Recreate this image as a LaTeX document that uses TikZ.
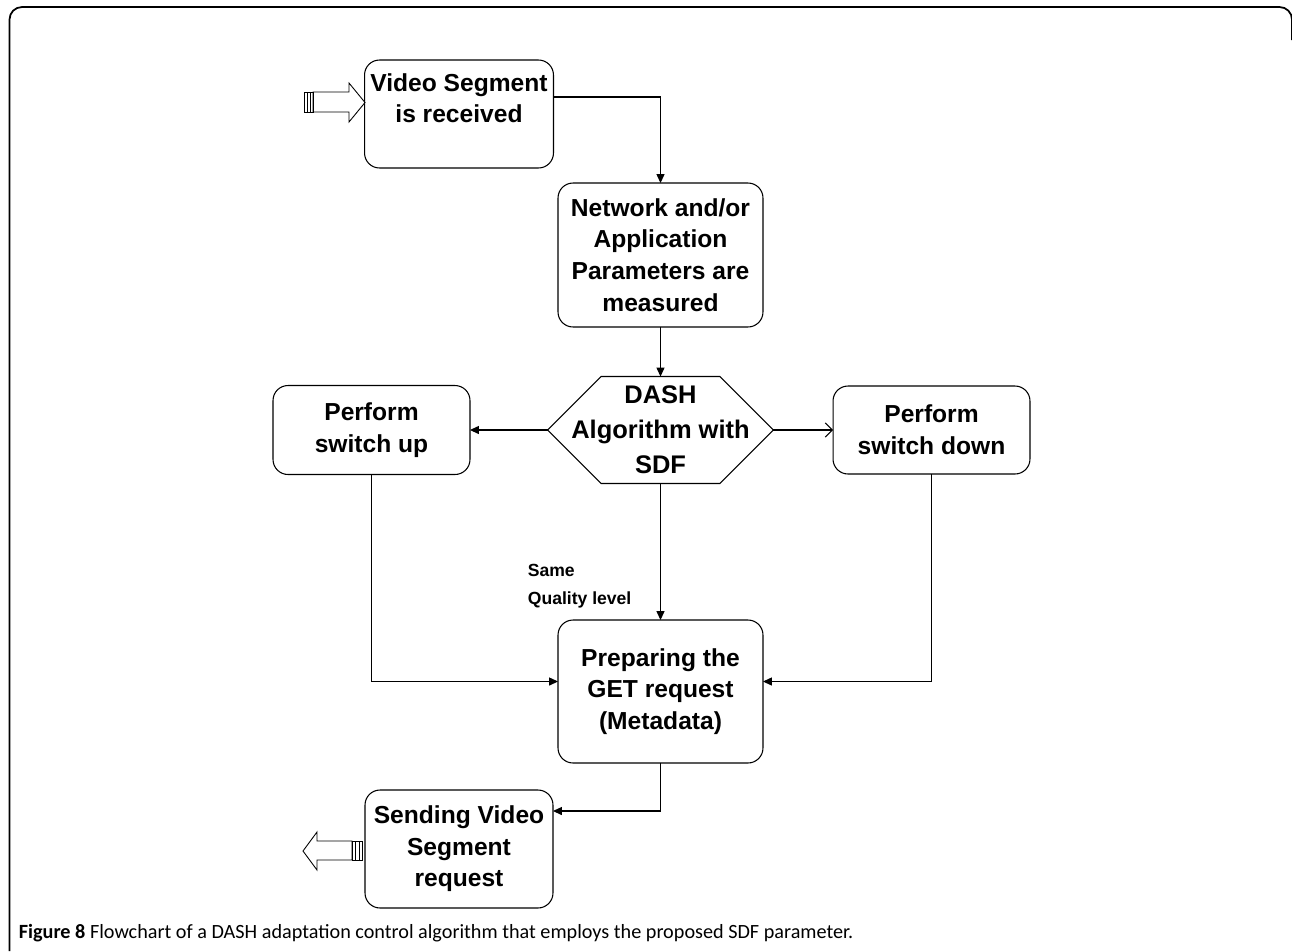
\documentclass[tikz,border=0pt]{standalone}
\usepackage{fontspec}
\setmainfont{Liberation Sans}
\newfontfamily\capfont{Carlito}
\usetikzlibrary{arrows.meta,shapes.symbols}

\begin{document}
\begin{tikzpicture}[x=0.02cm, y=-0.02cm,
    every node/.style={align=center, font=\bfseries\fontsize{14}{18}\selectfont, outer sep=0pt},
    box/.style={draw, rounded corners=0.3cm, line width=0.6pt},
    arrow/.style={line width=0.6pt, -{Triangle[length=5pt,width=4.5pt]}},
    openarrow/.style={line width=0.6pt, -{Straight Barb[length=4pt,width=8pt]}},
    fat/.style={draw, line width=0.5pt, fill=white}]
    \useasboundingbox (0,0) rectangle (1292,951);
    % frame
    \draw[line width=1pt, rounded corners=0.25cm] (9.5,951) -- (9.5,7) -- (1292,7) -- (1292,40);

    \node[box, minimum width=3.76cm, minimum height=2.16cm](video) at (459,114){Video Segment\\is received\\ \mbox{}};
    \node[box, minimum width=4.1cm, minimum height=2.88cm](network) at (660.5,255){Network and/or\\Application\\Parameters are\\measured};
    \node[signal, signal to=west and east, signal pointer angle=90, draw, line width=0.6pt,
          minimum width=4.52cm, minimum height=2.14cm, inner sep=0pt](hex) at (660.5,430){};
    \node[font=\bfseries\fontsize{14.5}{20}\selectfont](hexlabel) at (hex){DASH\\Algorithm with\\SDF};
    \node[box, minimum width=3.94cm, minimum height=1.78cm](up) at (371.5,430){Perform\\switch up};
    \node[box, minimum width=3.94cm, minimum height=1.76cm](down) at (931.5,430){Perform\\switch down};
    \node[box, minimum width=4.1cm, minimum height=2.86cm](prep) at (660.5,691.5){Preparing the\\GET request\\(Metadata)};
    \node[box, minimum width=3.76cm, minimum height=2.36cm](send) at (459,849){Sending Video\\Segment\\request};
    \node[font=\bfseries\fontsize{10}{16}\selectfont, align=left, anchor=west](samelbl) at (522,586){Same\\Quality level};

    \draw[to path={-| (\tikztotarget)}]
	([yshift=0.34cm]video.east) edge[arrow] (network);
    \draw[arrow] (network) -- (hex);
    \draw[arrow] (hex) -- (up);
    \draw[openarrow] (hex) -- (down);
    \draw[arrow] (hex) -- (prep);
    \draw[to path={|- (\tikztotarget)}]
	(up) edge[arrow] ([yshift=0.2cm]prep.west) (down) edge[arrow] ([yshift=0.2cm]prep.east);
    \draw[arrow] (prep) |- ([yshift=0.76cm]send.east);

    % hollow arrows in and out
    \draw[fat] (313,92) -- (349,92) -- (349,83) -- (365,102.5) -- (349,122) -- (349,112) -- (313,112) -- cycle;
    \draw[line width=0.5pt] (304,92) rectangle (313,112);
    \foreach \sx in {307,310} \draw[line width=0.5pt] (\sx,92) -- (\sx,112);
    \draw[fat] (352,841) -- (317,841) -- (317,832) -- (303,851) -- (317,870) -- (317,860) -- (352,860) -- cycle;
    \draw[line width=0.5pt] (352,841) rectangle (362,860);
    \foreach \sx in {355.5,359} \draw[line width=0.5pt] (\sx,841) -- (\sx,860);

    \node[anchor=base west, align=left, font=\capfont\fontsize{11.5}{14}\selectfont](caption) at (13,938)
	{\textbf{Figure 8} Flowchart of a DASH adaptation control algorithm that employs the proposed SDF parameter.};
\end{tikzpicture}
\end{document}
